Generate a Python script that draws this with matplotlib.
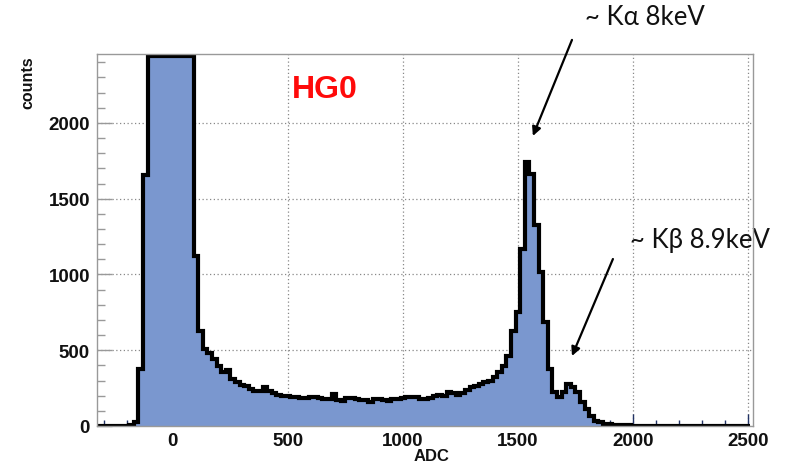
import numpy as np
import matplotlib
matplotlib.use("Agg")
import matplotlib.pyplot as plt
from matplotlib.ticker import MultipleLocator

# ---------------- data ----------------
bin_start = -330
bin_width = 20
counts = [
    # -330 .. -170
    2, 2, 2, 2, 2, 2, 3, 5,
    # -170 .. -110
    25, 376, 1656,
    # -110 .. 90 (pedestal, off scale)
    3000, 5500, 8200, 9600, 9900, 9500, 8000, 6000, 4200, 2700,
    # 90 .. 410
    1122, 625, 508, 480, 440, 396, 356, 370, 310, 290, 270, 264, 244, 231, 231, 257,
    # 410 .. 730
    233, 215, 204, 198, 198, 191, 190, 185, 188, 192, 193, 182, 178, 176, 214, 170,
    # 730 .. 1050
    167, 185, 185, 180, 174, 170, 158, 176, 176, 172, 167, 178, 180, 185, 189, 190,
    # 1050 .. 1370
    193, 176, 180, 185, 200, 205, 200, 222, 215, 205, 220, 238, 255, 265, 280, 288,
    # 1370 .. 1690
    300, 322, 358, 398, 462, 627, 755, 1168, 1742, 1660, 1325, 1016, 686, 376, 224, 191,
    # 1690 .. 2010
    224, 277, 257, 224, 158, 112, 66, 33, 26, 13, 10, 8, 6, 5, 4, 3,
    # 2010 .. 2510
    3, 2, 2, 2, 2, 2, 2, 2, 2, 2, 2, 2, 2, 2, 2, 2, 2, 2, 2, 2, 2, 2, 2, 2, 2,
]
x_ticks = [0, 500, 1000, 1500, 2000, 2500]
y_ticks = [0, 500, 1000, 1500, 2000]
x_range = (-330, 2522)
y_range = (0, 2455)
title_text = "HG0"
ka_text = "~ K\u03b1 8keV"
kb_text = "~ K\u03b2 8.9keV"

counts = np.array(counts, dtype=float)
edges = bin_start + bin_width * np.arange(len(counts) + 1)

# ---------------- figure ----------------
W, H = 786, 464
fig = plt.figure(figsize=(W / 100, H / 100), dpi=100)
ax = fig.add_axes([97 / W, 1 - 427 / H, (753 - 97) / W, (427 - 55) / H])

fill_col = "#7a97cf"
# ROOT draws off-scale bins at the frame top
shown = np.minimum(counts, y_range[1] - 12)
ax.stairs(shown, edges, fill=True, color=fill_col, zorder=2)
ax.stairs(shown, edges, color="black", lw=3.0, zorder=3, baseline=None)

ax.set_xlim(*x_range)
ax.set_ylim(*y_range)

# grid under histogram
ax.set_axisbelow(True)
ax.grid(True, which="major", ls=(0, (1.0, 2.0)), color="#888888", lw=0.9, zorder=0)

for s in ax.spines.values():
    s.set_color("#999999")
    s.set_linewidth(1.0)
    s.set_zorder(4)

ax.set_xticks(x_ticks)
ax.set_yticks(y_ticks)
ax.xaxis.set_minor_locator(MultipleLocator(100))
ax.yaxis.set_minor_locator(MultipleLocator(100))
ax.tick_params(axis="y", which="major", direction="in", length=11, width=1.0,
               color="#999999", pad=5, labelsize=13.5)
ax.tick_params(axis="y", which="minor", direction="in", length=6, width=1.0,
               color="#999999")
ax.tick_params(axis="x", which="major", direction="in", length=9, width=1.0,
               color="#223366", pad=4, labelsize=13.5)
ax.tick_params(axis="x", which="minor", direction="in", length=4, width=1.0,
               color="#223366")
for lab in ax.get_xticklabels() + ax.get_yticklabels():
    lab.set_fontfamily("Liberation Sans")
    lab.set_fontweight("bold")
    lab.set_color("#111111")

fig.text(28 / W, 1 - 83 / H, "counts", rotation=90, ha="center", va="center",
         fontsize=11.5, fontweight="bold", family="Liberation Sans", color="#111111")
fig.text(432 / W, 1 - 449 / H, "ADC", ha="center", va="top",
         fontsize=12, fontweight="bold", family="Liberation Sans", color="#111111")

ax.text(661, 2224, title_text, ha="center", va="center", color="#ff0a0a",
        fontsize=23, fontweight="bold",
        family=["Liberation Sans Narrow", "Liberation Sans", "DejaVu Sans"], zorder=6)

txt_family = ["Lato", "DejaVu Sans"]
ax.text(2052, 2700, ka_text, ha="center", va="center", fontsize=18.5,
        family=txt_family, color="#111111", clip_on=False)
ax.text(2290, 1234, kb_text, ha="center", va="center", fontsize=18.5,
        family=txt_family, color="#111111", clip_on=False)

arrow_kw = dict(arrowstyle="-|>", lw=1.6, color="black", mutation_scale=13,
                shrinkA=0, shrinkB=0)
ax.annotate("", xy=(1565, 1914), xytext=(1735, 2548), arrowprops=arrow_kw,
            annotation_clip=False, zorder=6)
ax.annotate("", xy=(1735, 462), xytext=(1913, 1102), arrowprops=arrow_kw,
            annotation_clip=False, zorder=6)

fig.savefig("out.png", dpi=100)
